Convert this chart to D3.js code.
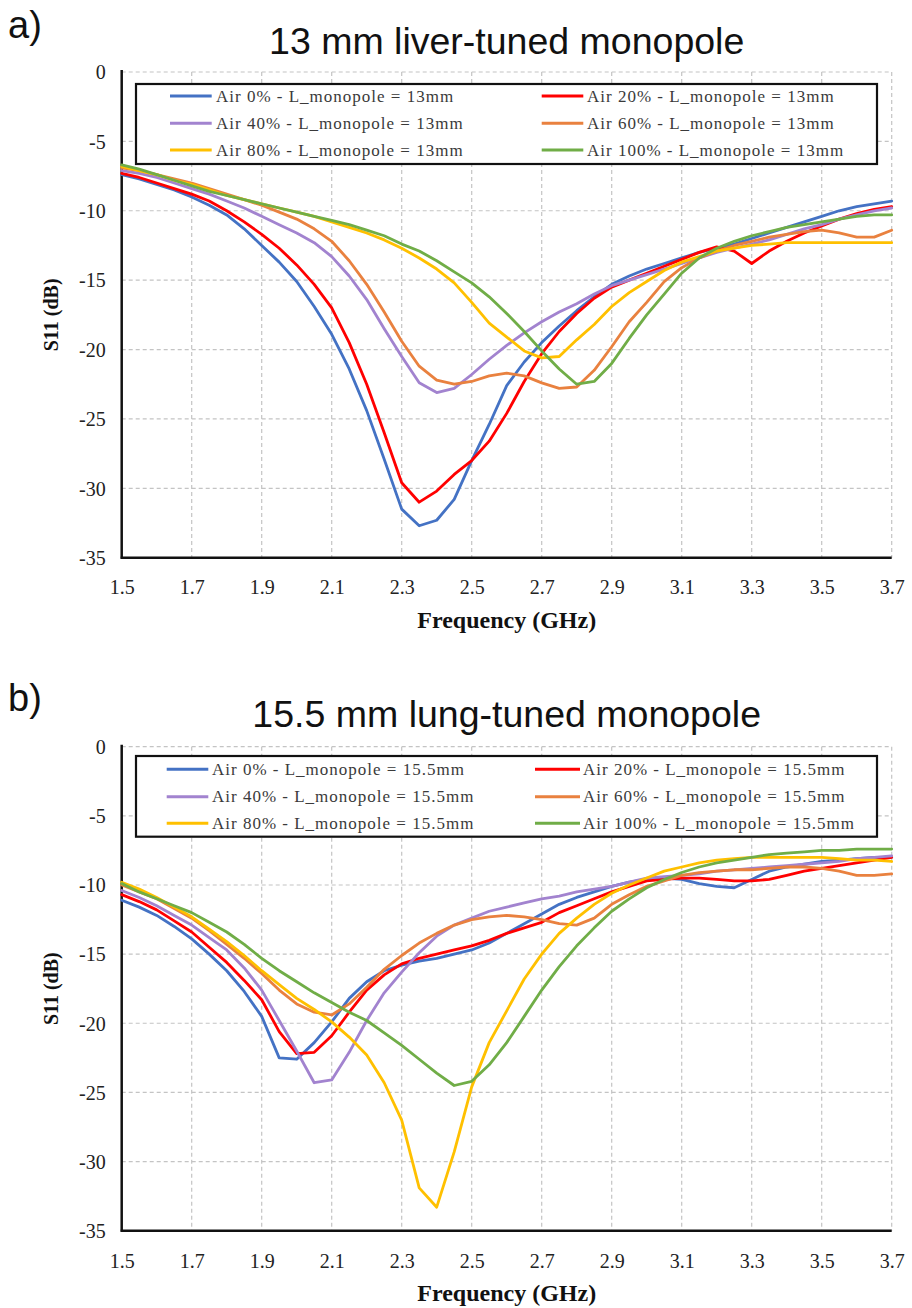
<!DOCTYPE html>
<html><head><meta charset="utf-8">
<script src="https://cdn.jsdelivr.net/npm/d3@7"></script>
<style>body{margin:0;background:#fff}</style>
</head><body>
<svg id="chart" width="912" height="1308" xmlns="http://www.w3.org/2000/svg"></svg>
<script>
// ---------- DATA ----------
const freqs = [1.50,1.55,1.60,1.65,1.70,1.75,1.80,1.85,1.90,1.95,2.00,2.05,2.10,2.15,2.20,2.25,2.30,2.35,2.40,2.45,2.50,2.55,2.60,2.65,2.70,2.75,2.80,2.85,2.90,2.95,3.00,3.05,3.10,3.15,3.20,3.25,3.30,3.35,3.40,3.45,3.50,3.55,3.60,3.65,3.70];
const xTicks = [1.5,1.7,1.9,2.1,2.3,2.5,2.7,2.9,3.1,3.3,3.5,3.7];
const yTicks = [0,-5,-10,-15,-20,-25,-30,-35];
const airLevels = ["0%","20%","40%","60%","80%","100%"];
const seriesColors = ["#4472C4","#FF0000","#A283CF","#E9813F","#FFC000","#70AD47"];

// Panel a) 13 mm liver-tuned monopole
const a_air0 = [-7.4,-7.7,-8.1,-8.5,-9.0,-9.6,-10.3,-11.3,-12.5,-13.7,-15.1,-16.9,-18.9,-21.4,-24.4,-27.9,-31.5,-32.7,-32.3,-30.8,-28.0,-25.4,-22.6,-20.9,-19.5,-18.3,-17.2,-16.2,-15.3,-14.7,-14.2,-13.8,-13.4,-13.0,-12.7,-12.4,-12.0,-11.6,-11.2,-10.8,-10.4,-10.0,-9.7,-9.5,-9.3];
const a_air20 = [-7.3,-7.6,-8.0,-8.4,-8.8,-9.3,-10.0,-10.8,-11.7,-12.7,-13.9,-15.3,-17.0,-19.5,-22.5,-26.0,-29.6,-31.0,-30.2,-29.0,-28.0,-26.6,-24.6,-22.3,-20.3,-18.7,-17.4,-16.3,-15.5,-15.0,-14.5,-14.0,-13.5,-13.0,-12.6,-12.9,-13.8,-12.9,-12.2,-11.6,-11.1,-10.6,-10.2,-9.9,-9.7];
const a_air40 = [-7.1,-7.3,-7.6,-8.0,-8.4,-8.8,-9.3,-9.8,-10.4,-11.0,-11.6,-12.3,-13.3,-14.7,-16.4,-18.5,-20.5,-22.4,-23.1,-22.8,-21.8,-20.7,-19.7,-18.8,-18.0,-17.3,-16.7,-16.0,-15.4,-15.0,-14.6,-14.2,-13.8,-13.4,-13.0,-12.7,-12.4,-12.1,-11.7,-11.3,-11.0,-10.6,-10.3,-10.0,-9.8];
const a_air60 = [-6.9,-7.1,-7.4,-7.7,-8.0,-8.4,-8.8,-9.2,-9.6,-10.1,-10.6,-11.3,-12.2,-13.6,-15.3,-17.3,-19.4,-21.2,-22.2,-22.5,-22.3,-21.9,-21.7,-21.9,-22.4,-22.8,-22.7,-21.5,-19.8,-18.0,-16.6,-15.1,-14.1,-13.4,-12.9,-12.5,-12.2,-11.9,-11.7,-11.5,-11.4,-11.6,-11.9,-11.9,-11.4];
const a_air80 = [-6.8,-7.1,-7.4,-7.8,-8.1,-8.5,-8.9,-9.2,-9.5,-9.8,-10.1,-10.4,-10.8,-11.2,-11.6,-12.1,-12.7,-13.4,-14.2,-15.2,-16.6,-18.1,-19.1,-20.1,-20.6,-20.5,-19.3,-18.2,-16.9,-15.9,-15.1,-14.3,-13.7,-13.3,-12.9,-12.7,-12.5,-12.4,-12.3,-12.3,-12.3,-12.3,-12.3,-12.3,-12.3];
const a_air100 = [-6.7,-7.0,-7.4,-7.8,-8.2,-8.6,-8.9,-9.2,-9.5,-9.8,-10.1,-10.4,-10.7,-11.0,-11.4,-11.8,-12.4,-12.9,-13.6,-14.4,-15.2,-16.2,-17.4,-18.7,-20.1,-21.4,-22.5,-22.3,-21.0,-19.2,-17.5,-16.0,-14.5,-13.4,-12.7,-12.2,-11.8,-11.5,-11.2,-11.0,-10.8,-10.6,-10.4,-10.3,-10.3];

// Panel b) 15.5 mm lung-tuned monopole
const b_air0 = [-11.1,-11.6,-12.2,-13.0,-13.9,-15.0,-16.2,-17.7,-19.5,-22.5,-22.6,-21.4,-19.9,-18.2,-17.0,-16.2,-15.8,-15.5,-15.3,-15.0,-14.7,-14.2,-13.5,-12.8,-12.1,-11.4,-10.9,-10.5,-10.1,-9.8,-9.6,-9.5,-9.6,-9.9,-10.1,-10.2,-9.6,-9.0,-8.7,-8.5,-8.3,-8.2,-8.1,-8.0,-8.0];
const b_air20 = [-10.7,-11.2,-11.8,-12.6,-13.4,-14.5,-15.6,-16.9,-18.3,-20.6,-22.2,-22.1,-20.9,-19.2,-17.6,-16.5,-15.7,-15.3,-15.0,-14.7,-14.4,-14.0,-13.5,-13.1,-12.7,-12.0,-11.5,-11.0,-10.5,-10.1,-9.7,-9.6,-9.5,-9.5,-9.6,-9.7,-9.7,-9.6,-9.3,-9.0,-8.8,-8.6,-8.4,-8.2,-8.0];
const b_air40 = [-10.4,-10.9,-11.5,-12.2,-12.9,-13.8,-14.7,-16.0,-17.6,-19.8,-22.0,-24.3,-24.1,-22.1,-19.8,-17.8,-16.3,-14.9,-13.7,-12.9,-12.4,-11.9,-11.6,-11.3,-11.0,-10.8,-10.5,-10.3,-10.1,-9.8,-9.5,-9.4,-9.3,-9.2,-9.0,-8.9,-8.8,-8.7,-8.6,-8.5,-8.4,-8.3,-8.1,-8.0,-7.9];
const b_air60 = [-10.0,-10.5,-11.0,-11.7,-12.4,-13.3,-14.3,-15.3,-16.4,-17.6,-18.6,-19.2,-19.4,-18.6,-17.4,-16.1,-15.1,-14.2,-13.5,-12.9,-12.5,-12.3,-12.2,-12.3,-12.5,-12.8,-12.9,-12.4,-11.4,-10.7,-10.1,-9.7,-9.3,-9.1,-9.0,-8.9,-8.9,-8.8,-8.7,-8.7,-8.8,-9.0,-9.3,-9.3,-9.2];
const b_air80 = [-9.8,-10.3,-10.9,-11.6,-12.3,-13.2,-14.1,-15.1,-16.2,-17.2,-18.2,-19.0,-19.9,-21.0,-22.3,-24.3,-27.0,-31.9,-33.3,-29.3,-24.6,-21.4,-19.1,-16.8,-15.0,-13.5,-12.4,-11.4,-10.6,-10.0,-9.5,-9.0,-8.7,-8.4,-8.2,-8.1,-8.0,-8.0,-8.0,-8.0,-8.0,-8.1,-8.2,-8.2,-8.3];
const b_air100 = [-9.9,-10.5,-11.0,-11.5,-12.0,-12.7,-13.4,-14.3,-15.3,-16.2,-17.0,-17.8,-18.5,-19.2,-19.8,-20.7,-21.6,-22.6,-23.6,-24.5,-24.2,-23.0,-21.4,-19.5,-17.6,-15.9,-14.4,-13.1,-11.9,-11.0,-10.2,-9.6,-9.1,-8.7,-8.4,-8.2,-8.0,-7.8,-7.7,-7.6,-7.5,-7.5,-7.4,-7.4,-7.4];

const panelLabels = ["a)","b)"];
const panelTitles = ["13 mm liver-tuned monopole","15.5 mm lung-tuned monopole"];
const monopoleLengths = ["13mm","15.5mm"];
const xTitle = "Frequency (GHz)";
const yTitle = "S11 (dB)";

// ---------- DRAW ----------
const svg = d3.select("#chart");
svg.append("rect").attr("width",912).attr("height",1308).attr("fill","#fff");

const panels = [
  {series:[a_air0,a_air20,a_air40,a_air60,a_air80,a_air100], top:72, bottom:557.7,
   labelBase:38, titleBase:54, legTop:84, legBot:164, rows:[96,123.3,150],
   leftLine:[170,211.7], rightLine:[541.7,583.3], leftText:216, rightText:587,
   xLabBase:594, xTitleBase:628},
  {series:[b_air0,b_air20,b_air40,b_air60,b_air80,b_air100], top:746.7, bottom:1230.7,
   labelBase:711, titleBase:727, legTop:756, legBot:836.7, rows:[769.3,796.7,823.3],
   leftLine:[166.7,208.3], rightLine:[535,580], leftText:212, rightText:583,
   xLabBase:1268, xTitleBase:1301}
];
const L = 121.7, R = 891.7;
const serif = "'Liberation Serif','Times New Roman',Times,serif";
const sans = "'Liberation Sans',Arial,Helvetica,sans-serif";

panels.forEach((p, pi) => {
  const g = svg.append("g");
  const x = d3.scaleLinear().domain([1.5,3.7]).range([L,R]);
  const y = d3.scaleLinear().domain([-35,0]).range([p.bottom,p.top]);

  // panel label and title
  g.append("text").attr("x",8).attr("y",p.labelBase).text(panelLabels[pi])
    .attr("font-family",sans).attr("font-size",38).attr("fill","#111");
  g.append("text").attr("x",(L+R)/2).attr("y",p.titleBase).attr("text-anchor","middle")
    .text(panelTitles[pi]).attr("font-family",sans).attr("font-size",37.5).attr("fill","#111");

  // gridlines
  g.append("g").selectAll("line").data(xTicks.filter(t=>t>1.5)).join("line")
    .attr("x1",d=>x(d)).attr("x2",d=>x(d)).attr("y1",p.top).attr("y2",p.bottom)
    .attr("stroke","#c4c4c4").attr("stroke-width",1.2).attr("stroke-dasharray","4,3");
  g.append("g").selectAll("line").data(yTicks.filter(t=>t>-35)).join("line")
    .attr("x1",L).attr("x2",R).attr("y1",d=>y(d)).attr("y2",d=>y(d))
    .attr("stroke","#c4c4c4").attr("stroke-width",1.2).attr("stroke-dasharray","4,3");

  // axes
  const xa = g.append("g").attr("transform",`translate(0,${p.bottom})`)
    .call(d3.axisBottom(x).tickValues(xTicks).tickFormat(d3.format(".1f")).tickSize(0).tickPadding(0));
  xa.select(".domain").remove();
  xa.attr("font-family",serif);
  xa.selectAll("text").attr("y",p.xLabBase-p.bottom).attr("dy",null)
    .attr("font-family",serif).attr("font-size",20).attr("fill","#222");

  const ya = g.append("g").attr("transform",`translate(${L},0)`)
    .call(d3.axisLeft(y).tickValues(yTicks).tickFormat(d=>String(d)).tickSize(0).tickPadding(16));
  ya.select(".domain").remove();
  ya.attr("font-family",serif);
  ya.selectAll("text").attr("font-family",serif).attr("font-size",20).attr("fill","#222").attr("dy","0.34em");

  g.append("line").attr("x1",L).attr("x2",L).attr("y1",p.top-2).attr("y2",p.bottom+1)
    .attr("stroke","#111").attr("stroke-width",2.5);
  g.append("line").attr("x1",L-1).attr("x2",R).attr("y1",p.bottom).attr("y2",p.bottom)
    .attr("stroke","#111").attr("stroke-width",2.5);

  // axis titles
  g.append("text").attr("x",(L+R)/2).attr("y",p.xTitleBase).attr("text-anchor","middle")
    .text(xTitle).attr("font-family",serif).attr("font-weight","bold").attr("font-size",24).attr("fill","#111");
  g.append("text").attr("transform",`translate(58,${(p.top+p.bottom)/2}) rotate(-90)`)
    .attr("text-anchor","middle").text(yTitle)
    .attr("font-family",serif).attr("font-weight","bold").attr("font-size",20).attr("fill","#111");

  // series lines
  const line = d3.line().x((d,i)=>x(freqs[i])).y(d=>y(d)).curve(d3.curveLinear);
  p.series.forEach((s, si) => {
    g.append("path").datum(s).attr("d",line).attr("fill","none")
      .attr("stroke",seriesColors[si]).attr("stroke-width",2.8)
      .attr("stroke-linejoin","round").attr("stroke-linecap","round");
  });

  // legend
  g.append("rect").attr("x",136).attr("y",p.legTop).attr("width",741).attr("height",p.legBot-p.legTop)
    .attr("fill","#fff").attr("stroke","#111").attr("stroke-width",2.2);
  airLevels.forEach((lv, i) => {
    const col = i % 2, row = Math.floor(i/2);
    const ln = col === 0 ? p.leftLine : p.rightLine;
    const tx = col === 0 ? p.leftText : p.rightText;
    const ry = p.rows[row];
    g.append("line").attr("x1",ln[0]).attr("x2",ln[1]).attr("y1",ry).attr("y2",ry)
      .attr("stroke",seriesColors[i]).attr("stroke-width",3);
    g.append("text").attr("x",tx).attr("y",ry+5.5)
      .text(`Air ${lv} - L_monopole = ${monopoleLengths[pi]}`)
      .attr("font-family",serif).attr("font-size",17).attr("letter-spacing","1px").attr("fill","#3a3a3a");
  });
});
</script>
</body></html>
